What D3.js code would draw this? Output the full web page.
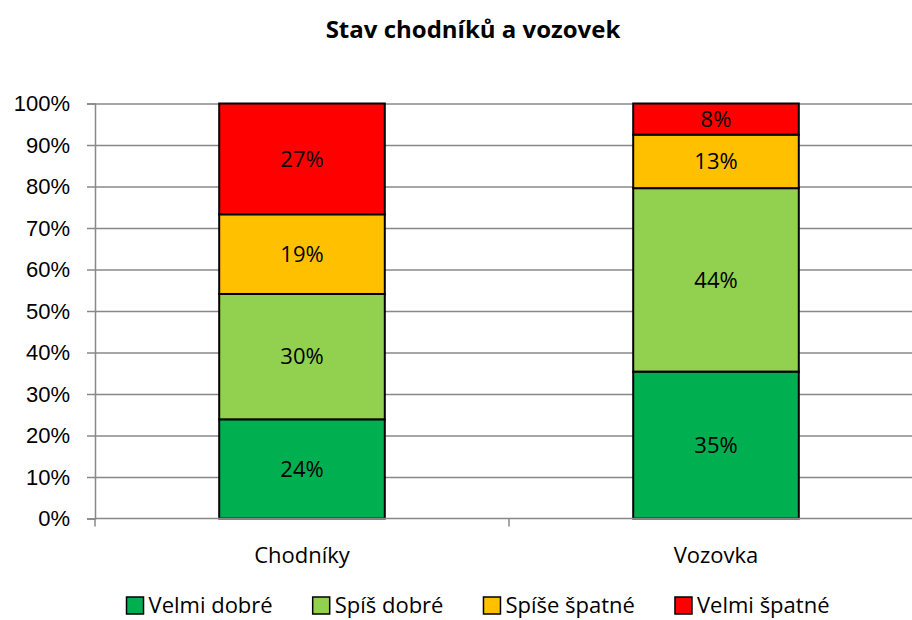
<!DOCTYPE html>
<html>
<head>
<meta charset="utf-8">
<script src="https://cdn.jsdelivr.net/npm/d3@7"></script>
<style>
  body { margin: 0; background: #fff; }
  svg { display: block; font-family: "Open Sans", sans-serif; }
  .axis text { font-size: 22px; fill: #000; }
  .axis path, .axis line { stroke: #888; stroke-width: 1.5; }
  .grid line { stroke: #888; stroke-width: 1.5; }
  .grid path { display: none; }
</style>
</head>
<body>
<div id="chart"></div>
<script>
  const categories = ["Chodníky", "Vozovka"];
  const seriesNames = ["Velmi dobré", "Spíš dobré", "Spíše špatné", "Velmi špatné"];
  const seriesColors = ["#00B050", "#92D050", "#FFC000", "#FF0000"];
  // share of answers per category, bottom to top (%)
  const velmiDobre = [23.9, 35.4];
  const spisDobre = [30.2, 44.2];
  const spiseSpatne = [19.2, 12.9];
  const velmiSpatne = [26.7, 7.5];
  const yTicks = [0, 0.1, 0.2, 0.3, 0.4, 0.5, 0.6, 0.7, 0.8, 0.9, 1];

  const width = 912, height = 620;
  const fullWidth = 946; // original chart area was a bit wider than the crop

  const table = categories.map((c, i) => ({
    category: c,
    "Velmi dobré": velmiDobre[i],
    "Spíš dobré": spisDobre[i],
    "Spíše špatné": spiseSpatne[i],
    "Velmi špatné": velmiSpatne[i]
  }));

  const stack = d3.stack()
    .keys(seriesNames)
    .offset(d3.stackOffsetExpand);
  const layers = stack(table);

  const svg = d3.select("#chart").append("svg")
    .attr("width", width)
    .attr("height", height);

  const x = d3.scaleBand()
    .domain(categories)
    .range([95, 923])
    .paddingInner(0.6)
    .paddingOuter(0.3);

  const y = d3.scaleLinear()
    .domain([0, 1])
    .range([518.5, 103.5]);

  // title
  svg.append("text")
    .attr("x", fullWidth / 2)
    .attr("y", 38)
    .attr("text-anchor", "middle")
    .style("font-size", "24px")
    .style("font-weight", "bold")
    .text("Stav chodníků a vozovek");

  // gridlines
  svg.append("g")
    .attr("class", "grid")
    .attr("transform", "translate(95,0)")
    .call(d3.axisLeft(y).tickValues(yTicks.slice(1)).tickSize(-(923 - 95)).tickFormat(""));

  // bars
  const layer = svg.append("g").selectAll("g")
    .data(layers)
    .join("g")
    .attr("fill", (d, i) => seriesColors[i]);

  layer.selectAll("rect")
    .data(d => d)
    .join("rect")
    .attr("x", d => x(d.data.category))
    .attr("y", d => y(d[1]))
    .attr("width", x.bandwidth())
    .attr("height", d => y(d[0]) - y(d[1]))
    .attr("stroke", "#000")
    .attr("stroke-width", 2);

  // value labels
  layer.selectAll("text")
    .data((d, i) => d.map(v => ({ v, key: d.key })))
    .join("text")
    .attr("x", d => x(d.v.data.category) + x.bandwidth() / 2)
    .attr("y", d => y((d.v[0] + d.v[1]) / 2))
    .attr("dy", "0.35em")
    .attr("text-anchor", "middle")
    .attr("fill", "#000")
    .style("font-size", "22px")
    .text(d => Math.round(d.v.data[d.key]) + "%");

  // y axis
  svg.append("g")
    .attr("class", "axis")
    .attr("transform", "translate(95,0)")
    .call(d3.axisLeft(y).tickValues(yTicks).tickSize(8).tickPadding(17)
      .tickFormat(d => Math.round(d * 100) + "%"));

  // x axis
  const xAxis = svg.append("g")
    .attr("class", "axis")
    .attr("transform", "translate(0,518.5)");
  xAxis.append("line")
    .attr("x1", 95).attr("x2", 923)
    .attr("y1", 0).attr("y2", 0);
  const step = x.step();
  xAxis.selectAll(".cat-tick")
    .data(d3.range(categories.length + 1))
    .join("line")
    .attr("class", "cat-tick")
    .attr("x1", i => 95 + i * step)
    .attr("x2", i => 95 + i * step)
    .attr("y1", 0).attr("y2", 8);
  xAxis.selectAll(".cat-label")
    .data(categories)
    .join("text")
    .attr("class", "cat-label")
    .attr("x", d => x(d) + x.bandwidth() / 2)
    .attr("y", 44)
    .attr("text-anchor", "middle")
    .text(d => d);

  // legend
  const legend = svg.append("g").attr("transform", "translate(0,613)");
  const items = legend.selectAll("g")
    .data(seriesNames)
    .join("g");
  items.append("rect")
    .attr("width", 17).attr("height", 17)
    .attr("y", -16)
    .attr("fill", (d, i) => seriesColors[i])
    .attr("stroke", "#000")
    .attr("stroke-width", 1.5);
  items.append("text")
    .attr("x", 22)
    .style("font-size", "22px")
    .text(d => d);

  let offset = 0;
  const widths = [];
  items.each(function() {
    const w = this.getBBox().width;
    widths.push(w);
  });
  const gap = 40;
  const total = d3.sum(widths) + gap * (widths.length - 1);
  let start = 478 - total / 2;
  items.attr("transform", (d, i) => {
    const t = `translate(${start + offset},0)`;
    offset += widths[i] + gap;
    return t;
  });
</script>
</body>
</html>
